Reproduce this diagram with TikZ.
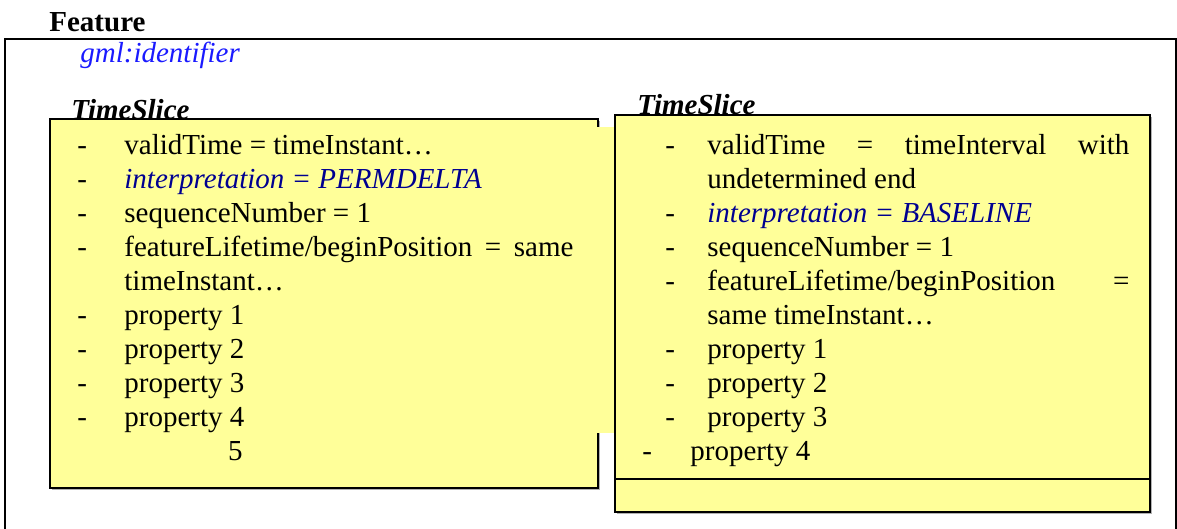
\documentclass[tikz,border=0pt]{standalone}
\usepackage{fontspec}
\setmainfont{Liberation Serif}
\usetikzlibrary{positioning}

\definecolor{slicefill}{HTML}{FFFF99}
\definecolor{idblue}{HTML}{1A1AFF}
\definecolor{interpblue}{HTML}{000090}

\tikzset{
  txt/.style={anchor=base west, inner sep=0pt, font=\fontsize{14.5}{16.7}\selectfont},
  head/.style={txt, font=\fontsize{14.5}{16.7}\selectfont\bfseries},
  slicehead/.style={txt, font=\fontsize{14.5}{16.7}\selectfont\bfseries\itshape},
  interp/.style={txt, text=interpblue, font=\fontsize{14.5}{16.7}\selectfont\itshape},
  slicebox/.style={draw=black, line width=1.2pt, fill=slicefill},
  shadowbox/.style={fill=black!30}
}

\begin{document}
\begin{tikzpicture}[x=0.5pt, y=-0.5pt]

  % Page frame
  \useasboundingbox (0,0) rectangle (1177,529);

  % Parameters (pixels, y down)
  \def\pitch{33.9}
  \def\lrow{155}
  \def\rrow{155}

  % Outer feature box (runs off the bottom)
  \draw[line width=1pt] (5,529) -- (5,39) -- (1176,39) -- (1176,529);
  \node[head] (feature) at (49,32) {Feature};
  \node[txt, text=idblue, font=\fontsize{14.5}{16.7}\selectfont\itshape] (ident) at (80,63) {gml:identifier};

  % Left time slice
  \fill[shadowbox] (52,121) rectangle (600,490);
  \draw[slicebox] (50,119) rectangle (598,488);
  \fill[slicefill] (596.6,127) rectangle (615,433);
  \node[slicehead] (lslice) at (71,120) {TimeSlice};

  \foreach \k/\t in {0/{validTime = timeInstant…}, 2/{sequenceNumber = 1},
                     5/{property 1}, 6/{property 2}, 7/{property 3}, 8/{property 4}} {
    \node[txt] (lbul\k) at (77,\lrow+\k*\pitch) {-};
    \node[txt] (lrow\k) at (124,\lrow+\k*\pitch) {\t};
  }
  \node[txt] (lbul1) at (77,\lrow+1*\pitch) {-};
  \node[interp] (lrow1) at (124,\lrow+1*\pitch) {interpretation = PERMDELTA};
  \node[txt] (lbul3) at (77,\lrow+3*\pitch) {-};
  \node[txt] (lrow3) at (124,\lrow+3*\pitch)
    {\hbox to 224.5pt{featureLifetime/beginPosition\hfill=\hfill same}};
  \node[txt] (lrow4) at (124,\lrow+4*\pitch) {timeInstant…};
  \node[txt, anchor=base east] (lrow9) at (243,\lrow+9*\pitch) {5};

  % Right time slice
  \fill[shadowbox] (617,117) rectangle (1152,514);
  \draw[slicebox] (615,115) rectangle (1150,512);
  \draw[line width=1.2pt] (615,479) -- (1150,479);
  \node[slicehead] (rslice) at (637,115) {TimeSlice};

  \foreach \k/\t in {3/{sequenceNumber = 1}, 6/{property 1}, 7/{property 2}, 8/{property 3}} {
    \node[txt] (rbul\k) at (665,\rrow+\k*\pitch) {-};
    \node[txt] (rrow\k) at (707,\rrow+\k*\pitch) {\t};
  }
  \node[txt] (rbul0) at (665,\rrow) {-};
  \node[txt] (rrow0) at (707,\rrow)
    {\hbox to 211pt{validTime\hfill=\hfill timeInterval\hfill with}};
  \node[txt] (rrow1) at (707,\rrow+1*\pitch) {undetermined end};
  \node[txt] (rbul2) at (665,\rrow+2*\pitch) {-};
  \node[interp] (rrow2) at (707,\rrow+2*\pitch) {interpretation = BASELINE};
  \node[txt] (rbul4) at (665,\rrow+4*\pitch) {-};
  \node[txt] (rrow4) at (707,\rrow+4*\pitch)
    {\hbox to 211pt{featureLifetime/beginPosition\hfill=}};
  \node[txt] (rrow5) at (707,\rrow+5*\pitch) {same timeInstant…};
  \node[txt] (rbul9) at (642,\rrow+9*\pitch) {-};
  \node[txt] (rrow9) at (690,\rrow+9*\pitch) {property 4};

\end{tikzpicture}
\end{document}
